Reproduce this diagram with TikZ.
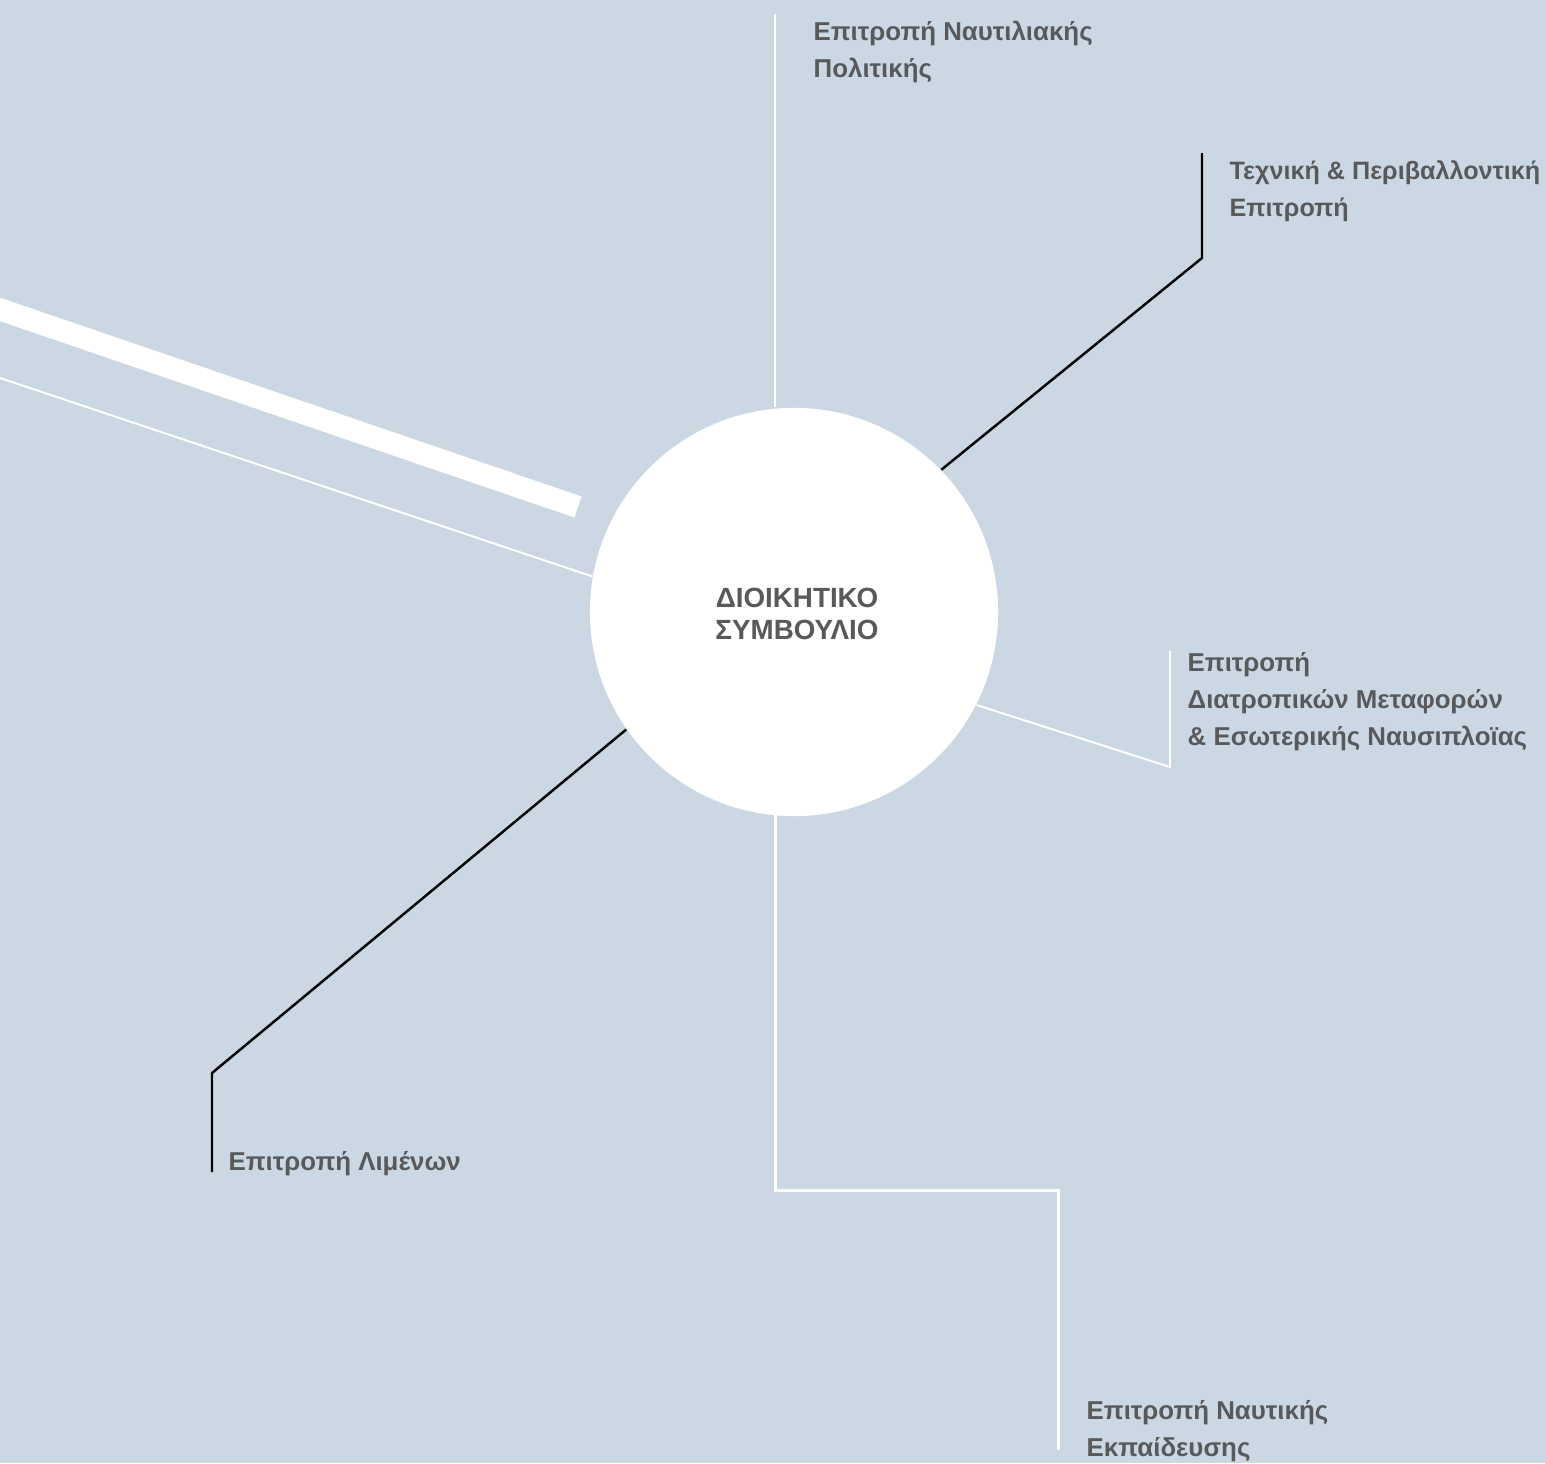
\documentclass[tikz,border=0pt]{standalone}
\usepackage{fontspec}
\setmainfont{Liberation Sans}
\definecolor{sBack}{HTML}{CBD8E3}
\definecolor{sText}{HTML}{58595B}

\begin{document}
\begin{tikzpicture}[x=0.01cm,y=-0.01cm]
		\tikzstyle{label} = [anchor=base west, inner sep=0pt, align=left, text=sText, font=\fontsize{7.35pt}{10.5pt}\selectfont\bfseries]
		\tikzstyle{wline} = [draw=white, line width=0.55pt]
		\tikzstyle{bline} = [draw=black, line width=0.7pt]

		\fill[sBack] (0,0) rectangle (1545,1463);
		\useasboundingbox (0,0) rectangle (1545,1463);

		% centre
		\node[circle, fill=white, minimum size=4.08cm, inner sep=0pt] (board) at (794,612) {};
		\node[anchor=center, inner sep=0pt, align=center, text=sText, font=\fontsize{7.9pt}{9.1pt}\selectfont\bfseries] (boardText) at (797,614) {ΔΙΟΙΚΗΤΙΚΟ\\ΣΥΜΒΟΥΛΙΟ};

		% labels (base = last line)
		\node[label] (naut) at (813,77) {Επιτροπή Ναυτιλιακής\\Πολιτικής};
		\node[label, font=\fontsize{7.15pt}{10.5pt}\selectfont\bfseries] (tech) at (1229,216) {Τεχνική \& Περιβαλλοντική\\Επιτροπή};
		\node[label] (inter) at (1187,745) {Επιτροπή\\Διατροπικών Μεταφορών\\\& Εσωτερικής Ναυσιπλοϊας};
		\node[label] (port) at (228,1170) {Επιτροπή Λιμένων};
		\node[label] (edu) at (1086,1456) {Επιτροπή Ναυτικής\\Εκπαίδευσης};

		% corners and free ends
		\coordinate (nautEnd) at (775,14);
		\coordinate (techBend) at (1202,258);
		\coordinate (techEnd) at (1202,153);
		\coordinate (interBend) at (1170,767);
		\coordinate (interEnd) at (1170,651);
		\coordinate (portBend) at (212,1073);
		\coordinate (portEnd) at (212,1172);
		\coordinate (eduBendA) at (775,1190);
		\coordinate (eduBendB) at (1058,1190);
		\coordinate (eduEnd) at (1058,1450);
		\coordinate (bandStart) at (-10,306);
		\coordinate (bandEnd) at (578,507);
		\coordinate (thinStart) at (0,378);

		\draw[wline] (board.north -| nautEnd) -- (nautEnd);
		\draw[bline] (board.44) -- (techBend) -- (techEnd);
		\draw[wline] (board.-27) -- (interBend) -- (interEnd);
		\draw[bline] (board.215) -- (portBend) -- (portEnd);
		\draw[wline, line width=0.85pt, shorten <=-0.02cm] (board.south -| eduBendA) -- (eduBendA) -- (eduBendB) -- (eduEnd);
		\draw[draw=white, line width=6.3pt] (bandStart) -- (bandEnd);
		\draw[wline] (thinStart) -- (board.170);
\end{tikzpicture}
\end{document}
